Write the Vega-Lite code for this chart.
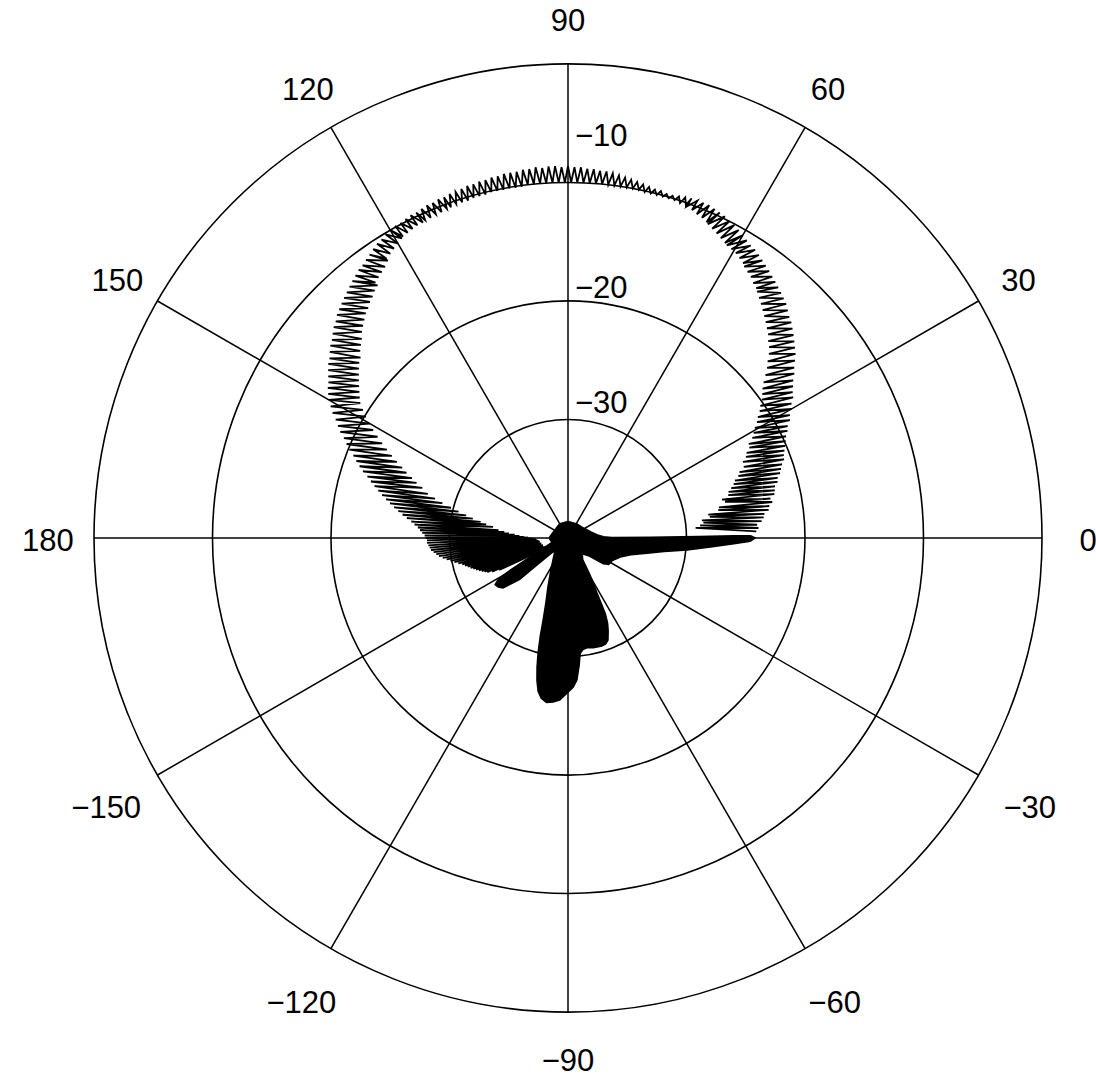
{
"$schema": "https://vega.github.io/schema/vega-lite/v6.json",
"width": 948, "height": 948,
"autosize": {"type": "none"},
"padding": {"left": 94, "top": 64, "right": 54, "bottom": 68},
"background": "white",
"config": {"view": {"stroke": null}, "text": {"font": "Liberation Sans", "fontSize": 31, "color": "black"}},
"datasets": {
"rings": [{"r": 10}, {"r": 20}, {"r": 30}, {"r": 40}],
"spokes": [{"a": 0}, {"a": 30}, {"a": 60}, {"a": 90}, {"a": 120}, {"a": 150}, {"a": 180}, {"a": 210}, {"a": 240}, {"a": 270}, {"a": 300}, {"a": 330}],
"alabels": [{"a": 0, "t": "0"}, {"a": 30, "t": "30"}, {"a": 60, "t": "60"}, {"a": 90, "t": "90"}, {"a": 120, "t": "120"}, {"a": 150, "t": "150"}, {"a": 180, "t": "180"}, {"a": -150, "t": "−150"}, {"a": -120, "t": "−120"}, {"a": -90, "t": "−90"}, {"a": -60, "t": "−60"}, {"a": -30, "t": "−30"}],
"rlabels": [{"t": "−10", "at": 33.8}, {"t": "−20", "at": 21.0}, {"t": "−30", "at": 11.3}],
"blob": [
{"i":0,"a":180,"d":-38.4},{"i":1,"a":150,"d":-38.7},{"i":2,"a":120,"d":-38.6},{"i":3,"a":90,"d":-38.6},{"i":4,"a":60,"d":-38.6},{"i":5,"a":30,"d":-38.4},{"i":6,"a":15,"d":-38.0},{"i":7,"a":6,"d":-37.5},{"i":8,"a":2,"d":-37.0},{"i":9,"a":0.8,"d":-36.3},{"i":10,"a":0.5,"d":-33},{"i":11,"a":0.7,"d":-29},{"i":12,"a":0.8,"d":-26},{"i":13,"a":0.7,"d":-24.6},{"i":14,"a":0.0,"d":-24.2},{"i":15,"a":-1.0,"d":-24.6},{"i":16,"a":-2.0,"d":-26.0},{"i":17,"a":-3.5,"d":-27.8},{"i":18,"a":-5.8,"d":-29.9},{"i":19,"a":-8,"d":-31.8},{"i":20,"a":-10.4,"d":-33.0},{"i":21,"a":-15,"d":-34.5},{"i":22,"a":-20,"d":-35.3},{"i":23,"a":-27,"d":-35.8},{"i":24,"a":-33,"d":-35.9},{"i":25,"a":-36,"d":-36.3},{"i":26,"a":-40,"d":-37.6},{"i":27,"a":-48,"d":-38.2},{"i":28,"a":-55.7,"d":-37.8},{"i":29,"a":-59,"d":-36.5},{"i":30,"a":-61,"d":-35.5},{"i":31,"a":-62.2,"d":-34.75},{"i":32,"a":-63.7,"d":-32.9},{"i":33,"a":-65,"d":-32.1},{"i":34,"a":-66.5,"d":-31.5},{"i":35,"a":-68.6,"d":-30.75},{"i":36,"a":-70.5,"d":-30.5},{"i":37,"a":-72.5,"d":-30.45},{"i":38,"a":-77,"d":-30.5},{"i":39,"a":-80.2,"d":-30.6},{"i":40,"a":-82.4,"d":-30.5},{"i":41,"a":-84,"d":-30.2},{"i":42,"a":-85,"d":-29.2},{"i":43,"a":-86.4,"d":-28.0},{"i":44,"a":-88,"d":-27.4},{"i":45,"a":-90.4,"d":-26.9},{"i":46,"a":-93,"d":-26.3},{"i":47,"a":-95.2,"d":-26.1},{"i":48,"a":-97.5,"d":-26.0},{"i":49,"a":-99.5,"d":-26.3},{"i":50,"a":-101,"d":-26.8},{"i":51,"a":-102.3,"d":-27.7},{"i":52,"a":-103.5,"d":-28.8},{"i":53,"a":-104.6,"d":-30},{"i":54,"a":-105.8,"d":-31.4},{"i":55,"a":-106.9,"d":-32.8},{"i":56,"a":-109,"d":-34.3},{"i":57,"a":-112.2,"d":-35.5},{"i":58,"a":-118,"d":-36.9},{"i":59,"a":-124.3,"d":-37.75},{"i":60,"a":-132,"d":-38.3},{"i":61,"a":-137,"d":-38.4},{"i":62,"a":-138.9,"d":-36.5},{"i":63,"a":-139.5,"d":-34.6},{"i":64,"a":-142.4,"d":-33.1},{"i":65,"a":-145,"d":-32.8},{"i":66,"a":-147.4,"d":-32.7},{"i":67,"a":-149.5,"d":-33.2},{"i":68,"a":-151,"d":-34.5},{"i":69,"a":-153.4,"d":-36.4},{"i":70,"a":-158,"d":-37.8},{"i":71,"a":-165,"d":-38.6},{"i":72,"a":-180,"d":-38.4}
],
"teeth": [
{"a":2,"o":-24.1,"b":4.5,"n":-29.2},{"a":3,"o":-23.9,"b":5.5,"n":-28.8},{"a":4,"o":-24.0,"b":6.5,"n":-28.5},{"a":5,"o":-23.6,"b":7.5,"n":-28.6},{"a":6,"o":-23.4,"b":8.5,"n":-27.9},{"a":7,"o":-23.3,"b":9.5,"n":-28.0},{"a":8,"o":-22.9,"b":10.5,"n":-27.1},{"a":9,"o":-22.8,"b":11.5,"n":-27.0},
{"a":10,"o":-22.5,"b":13,"n":-26.4},{"a":11,"o":-22.6,"b":14,"n":-26.6},{"a":12,"o":-22.2,"b":15,"n":-26.0},{"a":13,"o":-22.1,"b":16,"n":-25.9},{"a":14,"o":-22.0,"b":17,"n":-25.6},{"a":15,"o":-21.7,"b":18,"n":-25.3},{"a":16,"o":-21.6,"b":19,"n":-25.1},{"a":17,"o":-21.3,"b":20,"n":-24.7},{"a":18,"o":-21.1,"b":21,"n":-24.5},{"a":19,"o":-20.9,"b":22,"n":-24.0},
{"a":20,"o":-20.6,"b":23.5,"n":-23.9},{"a":21,"o":-20.5,"b":24.5,"n":-23.5},{"a":22,"o":-20.3,"b":25.5,"n":-23.3},{"a":23,"o":-20.1,"b":26.5,"n":-22.9},{"a":24,"o":-19.9,"b":27.5,"n":-22.8},{"a":25,"o":-19.7,"b":28.5,"n":-22.3},{"a":26,"o":-19.4,"b":29.5,"n":-22.0},{"a":27,"o":-19.2,"b":30.5,"n":-21.7},{"a":28,"o":-18.8,"b":31.5,"n":-21.3},{"a":29,"o":-18.6,"b":32.5,"n":-21.0},
{"a":30,"o":-18.2,"b":33.5,"n":-20.6},{"a":31,"o":-18.0,"b":34.5,"n":-20.3},{"a":32,"o":-17.6,"b":35.5,"n":-19.9},{"a":33,"o":-17.4,"b":36.5,"n":-19.6},{"a":34,"o":-17.1,"b":37.5,"n":-19.3},{"a":35,"o":-16.8,"b":38.5,"n":-18.9},{"a":36,"o":-16.4,"b":39.5,"n":-18.4},{"a":37,"o":-16.1,"b":40.5,"n":-17.9},{"a":38,"o":-15.7,"b":41.5,"n":-17.5},{"a":39,"o":-15.3,"b":42.5,"n":-17.0},
{"a":40,"o":-15.0,"b":43.5,"n":-16.6},{"a":41,"o":-14.7,"b":44.5,"n":-16.3},{"a":42,"o":-14.4,"b":45.5,"n":-15.9},{"a":43,"o":-14.1,"b":46.5,"n":-15.6},{"a":44,"o":-13.8,"b":47.5,"n":-15.3},{"a":45,"o":-13.6,"b":48.5,"n":-15.0},{"a":46,"o":-13.3,"b":49.5,"n":-14.7},{"a":47,"o":-13.0,"b":50.5,"n":-14.4},{"a":48,"o":-12.8,"b":51.5,"n":-14.1},{"a":49,"o":-12.6,"b":52.5,"n":-13.8},
{"a":50,"o":-12.4,"b":53,"n":-13.6},{"a":51,"o":-12.2,"b":54,"n":-13.4},{"a":52,"o":-12.0,"b":55,"n":-13.1},{"a":53,"o":-11.8,"b":56,"n":-12.9},{"a":54,"o":-11.6,"b":57,"n":-12.7},{"a":55,"o":-11.4,"b":57.5,"n":-12.5},{"a":56,"o":-11.2,"b":58.5,"n":-12.3},{"a":57,"o":-11.0,"b":59.5,"n":-12.1},{"a":58,"o":-10.9,"b":60.5,"n":-12.0},{"a":59,"o":-10.7,"b":61.5,"n":-11.9},
{"a":60,"o":-10.5,"b":62,"n":-11.8},{"a":61,"o":-10.3,"b":63,"n":-11.6},{"a":62,"o":-10.1,"b":64,"n":-11.4},{"a":63,"o":-10.0,"b":65,"n":-11.2},{"a":64,"o":-9.8,"b":66,"n":-11.0},{"a":65,"o":-9.7,"b":66.3,"n":-10.9},{"a":66,"o":-9.6,"b":67.3,"n":-10.7},{"a":67,"o":-9.5,"b":68.3,"n":-10.6},{"a":68,"o":-9.5,"b":69.3,"n":-10.4},{"a":69,"o":-9.5,"b":70.3,"n":-10.3},
{"a":70,"o":-9.5,"b":70.5,"n":-10.2},{"a":71,"o":-9.6,"b":71.5,"n":-10.2},{"a":72,"o":-9.7,"b":72.5,"n":-10.1},{"a":73,"o":-9.8,"b":73.5,"n":-10.1},{"a":74,"o":-9.8,"b":74.5,"n":-10.1},{"a":75,"o":-9.7,"b":75.5,"n":-10.1},{"a":76,"o":-9.7,"b":76.5,"n":-10.1},{"a":77,"o":-9.6,"b":77.5,"n":-10.1},{"a":78,"o":-9.5,"b":78.5,"n":-10.0},{"a":79,"o":-9.4,"b":79.5,"n":-10.0},
{"a":80,"o":-9.3,"b":80.5,"n":-10.0},{"a":81,"o":-9.2,"b":81.5,"n":-10.0},{"a":82,"o":-9.1,"b":82.5,"n":-10.0},{"a":83,"o":-9.0,"b":83.5,"n":-10.0},{"a":84,"o":-8.9,"b":84.5,"n":-10.0},{"a":85,"o":-8.9,"b":85.5,"n":-10.0},{"a":86,"o":-8.8,"b":86.5,"n":-10.0},{"a":87,"o":-8.8,"b":87.5,"n":-10.0},{"a":88,"o":-8.7,"b":88.5,"n":-10.0},{"a":89,"o":-8.7,"b":89.5,"n":-10.0},
{"a":90,"o":-8.6,"b":90.5,"n":-10.0},{"a":91,"o":-8.7,"b":91.5,"n":-10.0},{"a":92,"o":-8.6,"b":92.5,"n":-10.0},{"a":93,"o":-8.6,"b":93.5,"n":-10.0},{"a":94,"o":-8.7,"b":94.5,"n":-10.0},{"a":95,"o":-8.6,"b":95.5,"n":-10.0},{"a":96,"o":-8.7,"b":96.5,"n":-10.0},{"a":97,"o":-8.7,"b":97.5,"n":-10.1},{"a":98,"o":-8.8,"b":98.5,"n":-10.1},{"a":99,"o":-8.8,"b":99.5,"n":-10.1},
{"a":100,"o":-8.8,"b":100.5,"n":-10.1},{"a":101,"o":-8.9,"b":101.5,"n":-10.1},{"a":102,"o":-8.9,"b":102.5,"n":-10.1},{"a":103,"o":-9.0,"b":103.5,"n":-10.2},{"a":104,"o":-9.0,"b":104.5,"n":-10.2},{"a":105,"o":-9.1,"b":105.5,"n":-10.2},{"a":106,"o":-9.1,"b":106.5,"n":-10.3},{"a":107,"o":-9.2,"b":107.5,"n":-10.3},{"a":108,"o":-9.3,"b":108.5,"n":-10.3},{"a":109,"o":-9.3,"b":109.5,"n":-10.4},
{"a":110,"o":-9.4,"b":110.2,"n":-10.4},{"a":111,"o":-9.4,"b":111.2,"n":-10.5},{"a":112,"o":-9.5,"b":112.2,"n":-10.5},{"a":113,"o":-9.5,"b":113.2,"n":-10.6},{"a":114,"o":-9.6,"b":114.2,"n":-10.6},{"a":115,"o":-9.7,"b":114.7,"n":-10.7},{"a":116,"o":-9.7,"b":115.7,"n":-10.7},{"a":117,"o":-9.8,"b":116.7,"n":-10.8},{"a":118,"o":-9.9,"b":117.7,"n":-10.9},{"a":119,"o":-9.9,"b":118.7,"n":-11.0},
{"a":120,"o":-10.0,"b":119,"n":-11.1},{"a":121,"o":-10.1,"b":120,"n":-11.3},{"a":122,"o":-10.3,"b":121,"n":-11.5},{"a":123,"o":-10.4,"b":122,"n":-11.7},{"a":124,"o":-10.6,"b":123,"n":-11.9},{"a":125,"o":-10.8,"b":123,"n":-12.1},{"a":126,"o":-11.0,"b":124,"n":-12.4},{"a":127,"o":-11.2,"b":125,"n":-12.6},{"a":128,"o":-11.3,"b":126,"n":-12.8},{"a":129,"o":-11.5,"b":127,"n":-13.0},
{"a":130,"o":-11.7,"b":127,"n":-13.3},{"a":131,"o":-11.9,"b":128,"n":-13.5},{"a":132,"o":-12.1,"b":129,"n":-13.8},{"a":133,"o":-12.3,"b":130,"n":-14.0},{"a":134,"o":-12.5,"b":131,"n":-14.3},{"a":135,"o":-12.7,"b":132,"n":-14.5},{"a":136,"o":-12.9,"b":133,"n":-14.8},{"a":137,"o":-13.2,"b":134,"n":-15.1},{"a":138,"o":-13.4,"b":135,"n":-15.4},{"a":139,"o":-13.7,"b":136,"n":-15.8},
{"a":140,"o":-14.0,"b":137,"n":-16.1},{"a":141,"o":-14.2,"b":138,"n":-16.4},{"a":142,"o":-14.5,"b":139,"n":-16.8},{"a":143,"o":-14.8,"b":140,"n":-17.0},{"a":144,"o":-15.0,"b":141,"n":-17.3},{"a":145,"o":-15.3,"b":142,"n":-17.6},{"a":146,"o":-15.6,"b":143,"n":-17.9},{"a":147,"o":-15.9,"b":144,"n":-18.2},{"a":148,"o":-16.1,"b":145,"n":-18.5},{"a":149,"o":-16.4,"b":146,"n":-18.8},
{"a":150,"o":-16.7,"b":147,"n":-19.1},{"a":151,"o":-17.1,"b":148,"n":-19.6},{"a":152,"o":-17.5,"b":149,"n":-20.1},{"a":153,"o":-18.0,"b":150,"n":-20.7},{"a":154,"o":-18.4,"b":151,"n":-21.2},{"a":155,"o":-18.8,"b":152,"n":-21.8},{"a":156,"o":-19.3,"b":153,"n":-22.4},{"a":157,"o":-19.7,"b":154,"n":-23.0},{"a":158,"o":-20.1,"b":155,"n":-23.6},{"a":159,"o":-20.6,"b":156,"n":-24.2},
{"a":160,"o":-21.0,"b":157,"n":-24.8},{"a":161,"o":-21.4,"b":158,"n":-25.3},{"a":162,"o":-21.8,"b":159,"n":-25.9},{"a":163,"o":-22.3,"b":160,"n":-26.4},{"a":164,"o":-22.7,"b":161,"n":-27.0},{"a":165,"o":-23.1,"b":162.5,"n":-27.6},{"a":166,"o":-23.5,"b":163.5,"n":-28.3},{"a":167,"o":-23.9,"b":164.5,"n":-29.0},{"a":168,"o":-24.3,"b":165.5,"n":-29.8},{"a":169,"o":-24.7,"b":166.5,"n":-30.5},
{"a":170,"o":-25.1,"b":167.5,"n":-31.2},{"a":171,"o":-25.5,"b":168.5,"n":-31.8},{"a":172,"o":-25.9,"b":169.5,"n":-32.5},{"a":173,"o":-26.3,"b":170.5,"n":-33.0},{"a":174,"o":-26.7,"b":171.5,"n":-33.6},{"a":175,"o":-27.0,"b":173.5,"n":-34.1},{"a":176,"o":-27.3,"b":174.5,"n":-34.6},{"a":177,"o":-27.5,"b":175.5,"n":-35.0},{"a":178,"o":-27.7,"b":176.5,"n":-35.5},{"a":179,"o":-27.9,"b":177.5,"n":-35.9},
{"a":180,"o":-28.0,"b":178.5,"n":-36.3},{"a":181,"o":-28.1,"b":179.5,"n":-36.6},{"a":182,"o":-28.1,"b":180.5,"n":-36.9},{"a":183,"o":-28.2,"b":181.5,"n":-37.1},{"a":184,"o":-28.3,"b":182.5,"n":-37.3},{"a":185,"o":-28.4,"b":184.5,"n":-37.4},{"a":186,"o":-28.6,"b":185.5,"n":-37.5},{"a":187,"o":-28.8,"b":186.5,"n":-37.5},{"a":188,"o":-29.0,"b":187.5,"n":-37.6},{"a":189,"o":-29.3,"b":188.5,"n":-37.6},
{"a":190,"o":-29.6,"b":189.5,"n":-37.6},{"a":191,"o":-29.9,"b":190.5,"n":-37.6},{"a":192,"o":-30.2,"b":191.5,"n":-37.7},{"a":193,"o":-30.5,"b":192.5,"n":-37.7},{"a":194,"o":-30.8,"b":193.5,"n":-37.7},{"a":195,"o":-31.0,"b":195,"n":-37.7},{"a":196,"o":-31.2,"b":196,"n":-37.8},{"a":197,"o":-31.4,"b":197,"n":-37.8},{"a":198,"o":-31.6,"b":198,"n":-37.8},{"a":199,"o":-31.8,"b":199,"n":-37.8},
{"a":200,"o":-32.0,"b":200,"n":-37.8},{"a":201,"o":-32.2,"b":201,"n":-37.9},{"a":202,"o":-32.4,"b":202,"n":-37.9},{"a":203,"o":-32.6,"b":203,"n":-37.9},{"a":204,"o":-33.0,"b":204,"n":-38.0},{"a":205,"o":-33.6,"b":205,"n":-38.0}
]
},
"layer": [
{
"data": {"name": "rings"},
"transform": [{"calculate": "0", "as": "x"}, {"calculate": "0", "as": "y"}],
"mark": {"type": "point", "shape": "circle", "filled": false, "stroke": "black", "strokeWidth": 1.6, "opacity": 1},
"encoding": {
"x": {"field": "x", "type": "quantitative", "scale": {"domain": [-40, 40], "nice": false, "zero": false}, "axis": null},
"y": {"field": "y", "type": "quantitative", "scale": {"domain": [-40, 40], "nice": false, "zero": false}, "axis": null},
"size": {"field": "r", "type": "quantitative", "scale": {"type": "pow", "exponent": 2, "domain": [0, 40], "range": [0, 898704], "zero": true}, "legend": null}
}
},
{
"data": {"name": "spokes"},
"transform": [{"calculate": "0", "as": "x"}, {"calculate": "0", "as": "y"}, {"calculate": "40*cos(datum.a*PI/180)", "as": "ex"}, {"calculate": "40*sin(datum.a*PI/180)", "as": "ey"}],
"mark": {"type": "rule", "color": "black", "strokeWidth": 1.5},
"encoding": {
"x": {"field": "x", "type": "quantitative"},
"y": {"field": "y", "type": "quantitative"},
"x2": {"field": "ex"},
"y2": {"field": "ey"}
}
},
{
"data": {"name": "teeth"},
"transform": [
{"fold": ["o", "n"], "as": ["k", "d"]},
{"calculate": "datum.k == 'o' ? datum.a : datum.b", "as": "ang"},
{"calculate": "datum.a * 2 + (datum.k == 'n' ? 1 : 0)", "as": "ord"},
{"calculate": "(datum.d+40)*cos(datum.ang*PI/180)", "as": "x"},
{"calculate": "(datum.d+40)*sin(datum.ang*PI/180)", "as": "y"}
],
"mark": {"type": "line", "color": "black", "strokeWidth": 1.8, "strokeJoin": "miter"},
"encoding": {
"x": {"field": "x", "type": "quantitative"},
"y": {"field": "y", "type": "quantitative"},
"order": {"field": "ord", "type": "quantitative"}
}
},
{
"data": {"name": "blob"},
"transform": [{"calculate": "(datum.d+40)*cos(datum.a*PI/180)", "as": "x"}, {"calculate": "(datum.d+40)*sin(datum.a*PI/180)", "as": "y"}],
"mark": {"type": "line", "color": "black", "fill": "black", "strokeWidth": 1.5, "strokeJoin": "round"},
"encoding": {
"x": {"field": "x", "type": "quantitative"},
"y": {"field": "y", "type": "quantitative"},
"order": {"field": "i", "type": "quantitative"}
}
},
{
"data": {"name": "alabels"},
"transform": [{"calculate": "datum.a == -90 ? 43.9 : (datum.a < 0 ? 45.0 : 43.9)", "as": "lr"}, {"calculate": "datum.lr*cos(datum.a*PI/180)", "as": "x"}, {"calculate": "datum.lr*sin(datum.a*PI/180)", "as": "y"}],
"mark": {"type": "text", "align": "center", "baseline": "middle", "dy": 4},
"encoding": {
"x": {"field": "x", "type": "quantitative"},
"y": {"field": "y", "type": "quantitative"},
"text": {"field": "t", "type": "nominal"}
}
},
{
"data": {"name": "rlabels"},
"transform": [{"calculate": "0", "as": "x"}],
"mark": {"type": "text", "align": "left", "baseline": "middle", "dx": 7},
"encoding": {
"x": {"field": "x", "type": "quantitative"},
"y": {"field": "at", "type": "quantitative"},
"text": {"field": "t", "type": "nominal"}
}
}
]
}
